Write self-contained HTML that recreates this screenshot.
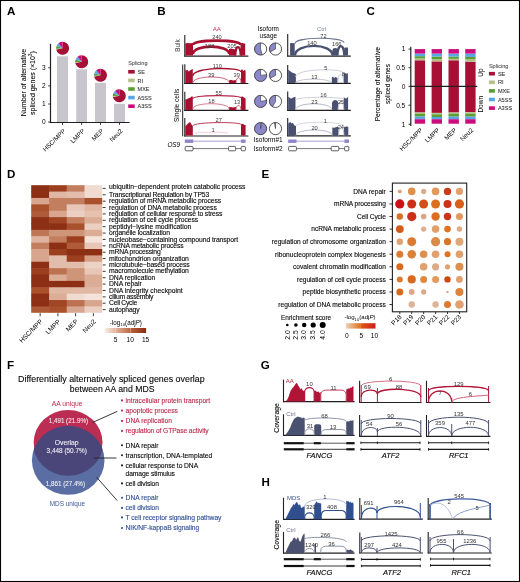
<!DOCTYPE html>
<html><head><meta charset="utf-8"><title>Figure</title>
<style>
html,body{margin:0;padding:0;background:#fff;}
svg{display:block;will-change:transform;}
text{font-family:"Liberation Sans",sans-serif;}
</style></head><body>
<svg width="520" height="582" viewBox="0 0 520 582">
<rect x="0" y="0" width="520" height="582" fill="#fff"/>
<text x="6.90" y="14.80" font-size="11.6" fill="#000" font-weight="bold">A</text>
<text x="157.20" y="15.00" font-size="11.6" fill="#000" font-weight="bold">B</text>
<text x="366.60" y="15.00" font-size="11.6" fill="#000" font-weight="bold">C</text>
<text x="7.00" y="177.80" font-size="11.6" fill="#000" font-weight="bold">D</text>
<text x="261.40" y="177.80" font-size="11.6" fill="#000" font-weight="bold">E</text>
<text x="7.00" y="368.80" font-size="11.6" fill="#000" font-weight="bold">F</text>
<text x="260.80" y="368.70" font-size="11.6" fill="#000" font-weight="bold">G</text>
<text x="261.50" y="486.00" font-size="11.6" fill="#000" font-weight="bold">H</text>
<rect x="57.00" y="56.30" width="11.00" height="66.20" fill="#c8c6cc"/>
<rect x="76.20" y="69.30" width="10.80" height="53.20" fill="#c8c6cc"/>
<rect x="95.00" y="82.80" width="11.00" height="39.70" fill="#c8c6cc"/>
<rect x="114.00" y="103.80" width="11.00" height="18.70" fill="#c8c6cc"/>
<line x1="50.50" y1="43.80" x2="50.50" y2="123.10" stroke="#231f20" stroke-width="1.2"/>
<line x1="49.90" y1="122.50" x2="129.60" y2="122.50" stroke="#231f20" stroke-width="1.2"/>
<line x1="48.20" y1="122.00" x2="50.50" y2="122.00" stroke="#231f20" stroke-width="0.9"/>
<text x="45.60" y="124.20" font-size="6.6" text-anchor="end">0</text>
<line x1="48.20" y1="104.00" x2="50.50" y2="104.00" stroke="#231f20" stroke-width="0.9"/>
<text x="45.60" y="106.20" font-size="6.6" text-anchor="end">1</text>
<line x1="48.20" y1="85.90" x2="50.50" y2="85.90" stroke="#231f20" stroke-width="0.9"/>
<text x="45.60" y="88.10" font-size="6.6" text-anchor="end">2</text>
<line x1="48.20" y1="67.80" x2="50.50" y2="67.80" stroke="#231f20" stroke-width="0.9"/>
<text x="45.60" y="70.00" font-size="6.6" text-anchor="end">3</text>
<line x1="62.50" y1="122.50" x2="62.50" y2="124.80" stroke="#231f20" stroke-width="0.9"/>
<line x1="81.60" y1="122.50" x2="81.60" y2="124.80" stroke="#231f20" stroke-width="0.9"/>
<line x1="100.50" y1="122.50" x2="100.50" y2="124.80" stroke="#231f20" stroke-width="0.9"/>
<line x1="119.50" y1="122.50" x2="119.50" y2="124.80" stroke="#231f20" stroke-width="0.9"/>
<path d="M62.60,48.30 L62.60,41.80 A6.5,6.5 0 1 1 56.22,49.52 Z" fill="#a70f35"/>
<path d="M62.60,48.30 L56.22,49.52 A6.5,6.5 0 0 1 56.11,48.71 Z" fill="#b3c08b"/>
<path d="M62.60,48.30 L56.11,48.71 A6.5,6.5 0 0 1 56.56,45.91 Z" fill="#5b9e33"/>
<path d="M62.60,48.30 L56.56,45.91 A6.5,6.5 0 0 1 58.46,43.29 Z" fill="#58a6e3"/>
<path d="M62.60,48.30 L58.46,43.29 A6.5,6.5 0 0 1 62.60,41.80 Z" fill="#cc0c7c"/>
<path d="M81.70,61.80 L81.70,55.30 A6.5,6.5 0 1 1 75.32,63.02 Z" fill="#a70f35"/>
<path d="M81.70,61.80 L75.32,63.02 A6.5,6.5 0 0 1 75.21,62.21 Z" fill="#b3c08b"/>
<path d="M81.70,61.80 L75.21,62.21 A6.5,6.5 0 0 1 75.66,59.41 Z" fill="#5b9e33"/>
<path d="M81.70,61.80 L75.66,59.41 A6.5,6.5 0 0 1 77.56,56.79 Z" fill="#58a6e3"/>
<path d="M81.70,61.80 L77.56,56.79 A6.5,6.5 0 0 1 81.70,55.30 Z" fill="#cc0c7c"/>
<path d="M100.50,75.30 L100.50,68.80 A6.5,6.5 0 1 1 94.12,76.52 Z" fill="#a70f35"/>
<path d="M100.50,75.30 L94.12,76.52 A6.5,6.5 0 0 1 94.01,75.71 Z" fill="#b3c08b"/>
<path d="M100.50,75.30 L94.01,75.71 A6.5,6.5 0 0 1 94.46,72.91 Z" fill="#5b9e33"/>
<path d="M100.50,75.30 L94.46,72.91 A6.5,6.5 0 0 1 96.36,70.29 Z" fill="#58a6e3"/>
<path d="M100.50,75.30 L96.36,70.29 A6.5,6.5 0 0 1 100.50,68.80 Z" fill="#cc0c7c"/>
<path d="M119.30,95.80 L119.30,89.30 A6.5,6.5 0 1 1 112.92,97.02 Z" fill="#a70f35"/>
<path d="M119.30,95.80 L112.92,97.02 A6.5,6.5 0 0 1 112.81,96.21 Z" fill="#b3c08b"/>
<path d="M119.30,95.80 L112.81,96.21 A6.5,6.5 0 0 1 113.26,93.41 Z" fill="#5b9e33"/>
<path d="M119.30,95.80 L113.26,93.41 A6.5,6.5 0 0 1 115.16,90.79 Z" fill="#58a6e3"/>
<path d="M119.30,95.80 L115.16,90.79 A6.5,6.5 0 0 1 119.30,89.30 Z" fill="#cc0c7c"/>
<text x="26.20" y="82.50" font-size="7.1" text-anchor="middle" stroke="#231f20" stroke-width="0.1" transform="rotate(-90 26.20 82.50)" textLength="67.5" lengthAdjust="spacingAndGlyphs">Number of alternative</text>
<text x="34.90" y="83.10" font-size="7.1" text-anchor="middle" stroke="#231f20" stroke-width="0.1" transform="rotate(-90 34.90 83.10)" textLength="63.7" lengthAdjust="spacingAndGlyphs">spliced genes (×10<tspan font-size="4.6" dy="-2.6">3</tspan><tspan dy="2.6">)</tspan></text>
<text x="66.10" y="131.40" font-size="6.4" text-anchor="end" transform="rotate(-45 66.10 131.40)">HSC/MPP</text>
<text x="85.20" y="131.40" font-size="6.4" text-anchor="end" transform="rotate(-45 85.20 131.40)">LMPP</text>
<text x="104.10" y="131.40" font-size="6.4" text-anchor="end" transform="rotate(-45 104.10 131.40)">MEP</text>
<text x="123.10" y="131.40" font-size="6.4" text-anchor="end" transform="rotate(-45 123.10 131.40)">Neu2</text>
<text x="128.20" y="65.30" font-size="5.5" fill="#555" stroke="#555" stroke-width="0.1">Splicing</text>
<rect x="128.20" y="70.00" width="6.50" height="3.60" fill="#a70f35"/>
<text x="137.60" y="73.90" font-size="5.5" fill="#333" stroke="#333" stroke-width="0.08">SE</text>
<rect x="128.20" y="78.60" width="6.50" height="3.60" fill="#b3c08b"/>
<text x="137.60" y="82.50" font-size="5.5" fill="#333" stroke="#333" stroke-width="0.08">RI</text>
<rect x="128.20" y="87.20" width="6.50" height="3.60" fill="#5b9e33"/>
<text x="137.60" y="91.10" font-size="5.5" fill="#333" stroke="#333" stroke-width="0.08">MXE</text>
<rect x="128.20" y="95.80" width="6.50" height="3.60" fill="#58a6e3"/>
<text x="137.60" y="99.70" font-size="5.5" fill="#333" stroke="#333" stroke-width="0.08">A5SS</text>
<rect x="128.20" y="104.40" width="6.50" height="3.60" fill="#cc0c7c"/>
<text x="137.60" y="108.30" font-size="5.5" fill="#333" stroke="#333" stroke-width="0.08">A3SS</text>
<text x="216.80" y="30.80" font-size="6.2" text-anchor="middle" fill="#c8385a">AA</text>
<text x="268.30" y="31.40" font-size="6.4" text-anchor="middle">Isoform</text>
<text x="268.30" y="37.80" font-size="6.4" text-anchor="middle">usage</text>
<text x="321.60" y="30.50" font-size="5.9" text-anchor="middle" fill="#7c84a0">Ctrl</text>
<text x="180.00" y="45.50" font-size="6.7" text-anchor="middle" fill="#3a3a3a" transform="rotate(-90 180.00 45.50)" textLength="12.5" lengthAdjust="spacingAndGlyphs">Bulk</text>
<text x="178.90" y="105.40" font-size="6.8" text-anchor="middle" transform="rotate(-90 178.90 105.40)" textLength="33.2" lengthAdjust="spacingAndGlyphs">Single cells</text>
<line x1="182.70" y1="64.50" x2="182.70" y2="136.30" stroke="#231f20" stroke-width="1"/>
<text x="180.20" y="147.30" font-size="6.4" text-anchor="end" font-style="italic">OS9</text>
<line x1="184.80" y1="35.00" x2="184.80" y2="56.60" stroke="#231f20" stroke-width="1.1"/>
<line x1="184.30" y1="56.10" x2="248.40" y2="56.10" stroke="#231f20" stroke-width="1.2"/>
<line x1="184.80" y1="64.20" x2="184.80" y2="84.00" stroke="#231f20" stroke-width="1.1"/>
<line x1="184.30" y1="83.50" x2="248.40" y2="83.50" stroke="#231f20" stroke-width="1.2"/>
<line x1="184.80" y1="91.70" x2="184.80" y2="110.90" stroke="#231f20" stroke-width="1.1"/>
<line x1="184.30" y1="110.40" x2="248.40" y2="110.40" stroke="#231f20" stroke-width="1.2"/>
<line x1="184.80" y1="118.00" x2="184.80" y2="136.50" stroke="#231f20" stroke-width="1.1"/>
<line x1="184.30" y1="136.00" x2="248.40" y2="136.00" stroke="#231f20" stroke-width="1.2"/>
<line x1="287.70" y1="34.00" x2="287.70" y2="56.60" stroke="#231f20" stroke-width="1.1"/>
<line x1="287.20" y1="56.10" x2="350.80" y2="56.10" stroke="#231f20" stroke-width="1.2"/>
<line x1="287.70" y1="65.00" x2="287.70" y2="83.90" stroke="#231f20" stroke-width="1.1"/>
<line x1="287.20" y1="83.40" x2="350.80" y2="83.40" stroke="#231f20" stroke-width="1.2"/>
<line x1="287.70" y1="91.50" x2="287.70" y2="110.80" stroke="#231f20" stroke-width="1.1"/>
<line x1="287.20" y1="110.30" x2="350.80" y2="110.30" stroke="#231f20" stroke-width="1.2"/>
<line x1="287.70" y1="118.00" x2="287.70" y2="136.30" stroke="#231f20" stroke-width="1.1"/>
<line x1="287.20" y1="135.80" x2="350.80" y2="135.80" stroke="#231f20" stroke-width="1.2"/>
<path d="M185.30,55.60 L185.30,43.50 L187.00,43.00 L190.00,43.20 L193.00,43.00 L193.00,55.60 Z" fill="#a8102f"/>
<path d="M229.00,55.60 L229.00,49.00 L231.00,48.50 L233.00,49.00 L235.50,49.50 L235.50,55.60 Z" fill="#a8102f"/>
<path d="M240.50,55.60 L240.50,44.00 L242.00,42.80 L244.00,43.50 L245.20,43.50 L245.20,55.60 Z" fill="#a8102f"/>
<path d="M193.00,45.00 C193.00,39.13 240.70,39.13 240.70,45.00" fill="none" stroke="#a8102f" stroke-width="2.8"/>
<path d="M193.00,54.00 C193.00,44.13 229.20,44.13 229.20,54.00" fill="none" stroke="#a8102f" stroke-width="2.6"/>
<path d="M235.30,55.60 C235.30,44.40 240.70,44.40 240.70,55.60" fill="none" stroke="#a8102f" stroke-width="2.2"/>
<text x="217.00" y="38.95" font-size="5.7" text-anchor="middle" fill="#3a3a3a">240</text>
<text x="209.60" y="48.25" font-size="5.7" text-anchor="middle" fill="#3a3a3a">188</text>
<text x="232.00" y="48.25" font-size="5.7" text-anchor="middle" fill="#3a3a3a">205</text>
<path d="M185.30,83.00 L185.30,69.50 L186.50,70.50 L187.50,69.80 L188.50,71.50 L190.00,70.50 L191.50,69.50 L192.80,69.00 L192.80,83.00 Z" fill="#a8102f"/>
<path d="M229.00,83.00 L229.00,80.50 L231.00,79.80 L233.00,80.60 L236.00,80.00 L236.00,83.00 Z" fill="#a8102f"/>
<path d="M241.00,83.00 L241.00,70.00 L242.00,69.20 L243.50,71.00 L244.50,70.00 L245.60,70.50 L245.60,83.00 Z" fill="#a8102f"/>
<path d="M192.80,76.00 C192.80,66.80 241.00,66.80 241.00,72.00" fill="none" stroke="#a8102f" stroke-width="1.4"/>
<path d="M192.80,83.00 C192.80,75.08 229.20,75.08 229.20,82.50" fill="none" stroke="#c8506a" stroke-width="0.9"/>
<path d="M236.00,83.00 C236.00,75.80 241.00,75.80 241.00,83.00" fill="none" stroke="#c8506a" stroke-width="0.9"/>
<text x="217.30" y="67.85" font-size="5.7" text-anchor="middle" fill="#3a3a3a">110</text>
<text x="211.20" y="76.85" font-size="5.7" text-anchor="middle" fill="#3a3a3a">39</text>
<text x="236.70" y="76.85" font-size="5.7" text-anchor="middle" fill="#3a3a3a">39</text>
<path d="M185.30,110.00 L185.30,99.60 L186.50,99.20 L188.00,98.60 L190.00,97.80 L191.50,96.60 L192.80,96.40 L192.80,110.00 Z" fill="#a8102f"/>
<path d="M229.00,110.00 L229.00,107.30 L231.00,107.00 L233.00,107.50 L236.00,107.00 L236.00,110.00 Z" fill="#a8102f"/>
<path d="M241.00,110.00 L241.00,96.80 L242.50,96.60 L244.00,97.60 L245.60,98.50 L245.60,110.00 Z" fill="#a8102f"/>
<path d="M192.80,99.00 C192.80,94.77 241.00,94.77 241.00,98.00" fill="none" stroke="#b82848" stroke-width="1.2"/>
<path d="M192.80,109.00 C192.80,101.93 229.20,101.93 229.20,109.00" fill="none" stroke="#d06a80" stroke-width="0.9"/>
<path d="M236.00,110.00 C236.00,103.87 241.00,103.87 241.00,110.00" fill="none" stroke="#c8506a" stroke-width="0.9"/>
<text x="218.70" y="95.45" font-size="5.7" text-anchor="middle" fill="#3a3a3a">55</text>
<text x="211.50" y="103.35" font-size="5.7" text-anchor="middle" fill="#3a3a3a">18</text>
<text x="237.10" y="104.45" font-size="5.7" text-anchor="middle" fill="#3a3a3a">13</text>
<path d="M185.30,135.60 L185.30,126.00 L186.50,125.00 L188.00,123.50 L189.50,122.20 L190.50,122.60 L191.80,125.00 L192.80,126.00 L192.80,135.60 Z" fill="#a8102f"/>
<path d="M241.00,135.60 L241.00,124.50 L242.00,123.80 L243.50,124.20 L244.50,125.00 L245.60,125.00 L245.60,135.60 Z" fill="#a8102f"/>
<path d="M192.80,126.00 C192.80,121.72 241.00,121.72 241.00,124.50" fill="none" stroke="#c03a5a" stroke-width="1.0"/>
<path d="M195.00,133.80 C195.00,131.72 228.00,131.72 228.00,133.50" fill="none" stroke="#f0b8c6" stroke-width="0.7"/>
<text x="218.70" y="122.05" font-size="5.7" text-anchor="middle" fill="#3a3a3a">27</text>
<text x="213.00" y="131.65" font-size="5.7" text-anchor="middle" fill="#3a3a3a">1</text>
<path d="M290.10,55.60 L290.10,43.10 L294.70,43.10 L294.70,55.60 Z" fill="#4a5170"/>
<path d="M332.40,55.60 L332.40,50.00 L333.50,48.30 L336.00,48.00 L337.50,49.00 L337.50,55.60 Z" fill="#4a5170"/>
<path d="M344.20,55.60 L344.20,48.50 L345.00,47.50 L348.00,47.50 L348.00,55.60 Z" fill="#4a5170"/>
<path d="M295.10,43.50 C295.10,36.68 344.00,36.68 344.00,42.80" fill="none" stroke="#6a7290" stroke-width="1.1"/>
<path d="M295.00,55.60 C295.00,42.67 332.60,42.67 332.60,55.60" fill="none" stroke="#4a5170" stroke-width="2.4"/>
<path d="M337.50,55.60 C337.50,43.07 344.20,43.07 344.20,55.60" fill="none" stroke="#4a5170" stroke-width="2.2"/>
<text x="323.40" y="38.15" font-size="5.7" text-anchor="middle" fill="#3a3a3a">72</text>
<text x="311.90" y="44.85" font-size="5.7" text-anchor="middle" fill="#3a3a3a">140</text>
<text x="336.80" y="46.15" font-size="5.7" text-anchor="middle" fill="#3a3a3a">166</text>
<path d="M288.20,83.00 L288.20,69.80 L290.00,71.00 L292.00,72.50 L294.00,73.30 L295.90,74.00 L295.90,83.00 Z" fill="#4a5170"/>
<path d="M331.80,83.00 L331.80,77.50 L333.00,76.50 L334.00,78.00 L335.50,77.00 L337.50,78.00 L337.50,83.00 Z" fill="#4a5170"/>
<path d="M343.60,83.00 L343.60,73.50 L345.00,72.90 L346.50,73.80 L347.90,73.00 L347.90,83.00 Z" fill="#4a5170"/>
<path d="M295.50,77.00 C295.50,68.20 343.50,68.20 343.50,73.00" fill="none" stroke="#c8cad2" stroke-width="0.9"/>
<path d="M295.50,83.00 C295.50,77.93 331.50,77.93 331.50,83.00" fill="none" stroke="#c0c3cc" stroke-width="0.9"/>
<path d="M337.80,83.00 C337.80,71.67 343.50,71.67 343.50,83.00" fill="none" stroke="#c0c3cc" stroke-width="0.9"/>
<text x="325.80" y="70.05" font-size="5.7" text-anchor="middle" fill="#3a3a3a">5</text>
<text x="314.30" y="78.55" font-size="5.7" text-anchor="middle" fill="#3a3a3a">13</text>
<text x="343.30" y="76.25" font-size="5.7" text-anchor="middle" fill="#3a3a3a">8</text>
<path d="M288.20,110.00 L288.20,96.80 L289.50,97.60 L291.00,98.70 L293.00,97.50 L295.50,96.70 L295.50,110.00 Z" fill="#4a5170"/>
<path d="M332.00,110.00 L332.00,103.00 L333.00,100.80 L335.00,100.00 L337.00,100.60 L338.10,102.00 L338.10,110.00 Z" fill="#4a5170"/>
<path d="M343.80,110.00 L343.80,97.00 L345.00,98.20 L346.50,98.50 L348.10,96.80 L348.10,110.00 Z" fill="#4a5170"/>
<path d="M295.50,100.00 C295.50,96.48 343.80,96.48 343.80,99.50" fill="none" stroke="#c8cad2" stroke-width="0.9"/>
<path d="M295.50,110.00 C295.50,101.73 332.00,101.73 332.00,110.00" fill="none" stroke="#aeb2c0" stroke-width="0.9"/>
<path d="M338.10,110.00 C338.10,99.20 343.80,99.20 343.80,110.00" fill="none" stroke="#aeb2c0" stroke-width="0.9"/>
<text x="323.40" y="96.85" font-size="5.7" text-anchor="middle" fill="#3a3a3a">16</text>
<text x="314.40" y="103.55" font-size="5.7" text-anchor="middle" fill="#3a3a3a">23</text>
<text x="341.10" y="103.55" font-size="5.7" text-anchor="middle" fill="#3a3a3a">25</text>
<path d="M288.20,135.50 L288.20,123.50 L289.50,122.50 L290.30,121.70 L291.30,123.50 L292.50,122.80 L293.50,123.80 L294.50,125.50 L296.00,126.00 L296.00,135.50 Z" fill="#4a5170"/>
<path d="M332.30,135.50 L332.30,127.50 L334.00,127.80 L336.00,127.20 L337.50,126.50 L338.50,127.00 L338.50,135.50 Z" fill="#4a5170"/>
<path d="M344.00,135.50 L344.00,126.50 L345.00,127.20 L346.50,126.30 L348.30,127.00 L348.30,135.50 Z" fill="#4a5170"/>
<path d="M296.00,126.00 C296.00,121.07 344.00,121.07 344.00,126.00" fill="none" stroke="#cfd2da" stroke-width="0.9"/>
<path d="M296.00,135.50 C296.00,128.17 332.30,128.17 332.30,135.50" fill="none" stroke="#aeb2c0" stroke-width="0.9"/>
<path d="M338.50,135.50 C338.50,125.50 344.00,125.50 344.00,135.50" fill="none" stroke="#aeb2c0" stroke-width="0.9"/>
<text x="325.40" y="122.85" font-size="5.7" text-anchor="middle" fill="#3a3a3a">1</text>
<text x="314.60" y="129.75" font-size="5.7" text-anchor="middle" fill="#3a3a3a">20</text>
<text x="340.80" y="128.95" font-size="5.7" text-anchor="middle" fill="#3a3a3a">24</text>
<line x1="192.80" y1="141.20" x2="241.10" y2="141.20" stroke="#8f8bcb" stroke-width="0.8"/>
<rect x="184.80" y="139.50" width="8.40" height="3.40" fill="#8c87c9"/>
<rect x="241.00" y="139.50" width="4.60" height="3.40" fill="#8c87c9"/>
<line x1="192.80" y1="148.60" x2="241.10" y2="148.60" stroke="#555" stroke-width="0.8"/>
<rect x="185.20" y="146.4" width="7.8" height="4.4" rx="1" fill="#fff" stroke="#333" stroke-width="0.8"/>
<rect x="228.50" y="146.4" width="7.10" height="4.4" rx="1" fill="#fff" stroke="#333" stroke-width="0.8"/>
<rect x="241.20" y="146.4" width="4.2" height="4.4" rx="1" fill="#fff" stroke="#333" stroke-width="0.8"/>
<line x1="296.20" y1="141.20" x2="344.50" y2="141.20" stroke="#8f8bcb" stroke-width="0.8"/>
<rect x="288.20" y="139.50" width="8.40" height="3.40" fill="#8c87c9"/>
<rect x="344.40" y="139.50" width="4.60" height="3.40" fill="#8c87c9"/>
<line x1="296.20" y1="148.60" x2="344.50" y2="148.60" stroke="#555" stroke-width="0.8"/>
<rect x="288.60" y="146.4" width="7.8" height="4.4" rx="1" fill="#fff" stroke="#333" stroke-width="0.8"/>
<rect x="331.20" y="146.4" width="7.60" height="4.4" rx="1" fill="#fff" stroke="#333" stroke-width="0.8"/>
<rect x="344.60" y="146.4" width="4.2" height="4.4" rx="1" fill="#fff" stroke="#333" stroke-width="0.8"/>
<text x="268.20" y="142.40" font-size="6.5" text-anchor="middle" textLength="28.9" lengthAdjust="spacingAndGlyphs">Isoform#1</text>
<text x="268.20" y="151.20" font-size="6.5" text-anchor="middle" textLength="28.9" lengthAdjust="spacingAndGlyphs">Isoform#2</text>
<circle cx="260.60" cy="49.00" r="6.10" fill="#fff"/>
<path d="M260.60,49.00 L260.60,42.90 A6.1,6.1 0 1 0 262.12,54.91 Z" fill="#8c87c9"/>
<path d="M260.6,49.0 L260.6,42.9" fill="none" stroke="#333" stroke-width="0.6"/>
<path d="M260.6,49.0 L262.12,54.91" fill="none" stroke="#333" stroke-width="0.6"/>
<circle cx="260.6" cy="49.0" r="6.1" fill="none" stroke="#2a2a2a" stroke-width="0.8"/>
<circle cx="275.50" cy="49.00" r="6.10" fill="#fff"/>
<path d="M275.50,49.00 L275.50,42.90 A6.1,6.1 0 0 0 270.15,51.94 Z" fill="#8c87c9"/>
<path d="M275.5,49.0 L275.5,42.9" fill="none" stroke="#333" stroke-width="0.6"/>
<path d="M275.5,49.0 L270.15,51.94" fill="none" stroke="#333" stroke-width="0.6"/>
<circle cx="275.5" cy="49.0" r="6.1" fill="none" stroke="#2a2a2a" stroke-width="0.8"/>
<circle cx="260.60" cy="75.40" r="6.10" fill="#fff"/>
<path d="M260.60,75.40 L260.60,69.30 A6.1,6.1 0 1 0 266.65,74.64 Z" fill="#8c87c9"/>
<path d="M260.6,75.4 L260.6,69.30000000000001" fill="none" stroke="#333" stroke-width="0.6"/>
<path d="M260.6,75.4 L266.65,74.64" fill="none" stroke="#333" stroke-width="0.6"/>
<circle cx="260.6" cy="75.4" r="6.1" fill="none" stroke="#2a2a2a" stroke-width="0.8"/>
<circle cx="275.50" cy="75.40" r="6.10" fill="#fff"/>
<path d="M275.50,75.40 L275.50,69.30 A6.1,6.1 0 0 0 270.15,78.34 Z" fill="#8c87c9"/>
<path d="M275.5,75.4 L275.5,69.30000000000001" fill="none" stroke="#333" stroke-width="0.6"/>
<path d="M275.5,75.4 L270.15,78.34" fill="none" stroke="#333" stroke-width="0.6"/>
<circle cx="275.5" cy="75.4" r="6.1" fill="none" stroke="#2a2a2a" stroke-width="0.8"/>
<circle cx="260.60" cy="101.40" r="6.10" fill="#fff"/>
<path d="M260.60,101.40 L260.60,95.30 A6.1,6.1 0 1 0 266.59,100.26 Z" fill="#8c87c9"/>
<path d="M260.6,101.4 L260.6,95.30000000000001" fill="none" stroke="#333" stroke-width="0.6"/>
<path d="M260.6,101.4 L266.59,100.26" fill="none" stroke="#333" stroke-width="0.6"/>
<circle cx="260.6" cy="101.4" r="6.1" fill="none" stroke="#2a2a2a" stroke-width="0.8"/>
<circle cx="275.50" cy="101.40" r="6.10" fill="#fff"/>
<path d="M275.50,101.40 L275.50,95.30 A6.1,6.1 0 0 0 272.56,106.75 Z" fill="#8c87c9"/>
<path d="M275.5,101.4 L275.5,95.30000000000001" fill="none" stroke="#333" stroke-width="0.6"/>
<path d="M275.5,101.4 L272.56,106.75" fill="none" stroke="#333" stroke-width="0.6"/>
<circle cx="275.5" cy="101.4" r="6.1" fill="none" stroke="#2a2a2a" stroke-width="0.8"/>
<circle cx="260.60" cy="128.60" r="6.10" fill="#fff"/>
<path d="M260.60,128.60 L260.60,122.50 A6.1,6.1 0 1 0 261.74,122.61 Z" fill="#8c87c9"/>
<path d="M260.6,128.6 L260.6,122.5" fill="none" stroke="#333" stroke-width="0.6"/>
<path d="M260.6,128.6 L261.74,122.61" fill="none" stroke="#333" stroke-width="0.6"/>
<circle cx="260.6" cy="128.6" r="6.1" fill="none" stroke="#2a2a2a" stroke-width="0.8"/>
<circle cx="275.50" cy="128.60" r="6.10" fill="#fff"/>
<path d="M275.50,128.60 L275.50,122.50 A6.1,6.1 0 0 0 274.36,122.61 Z" fill="#8c87c9"/>
<path d="M275.5,128.6 L275.5,122.5" fill="none" stroke="#333" stroke-width="0.6"/>
<path d="M275.5,128.6 L274.36,122.61" fill="none" stroke="#333" stroke-width="0.6"/>
<circle cx="275.5" cy="128.6" r="6.1" fill="none" stroke="#2a2a2a" stroke-width="0.8"/>
<rect x="414.70" y="60.28" width="10.40" height="26.12" fill="#a70f35"/>
<rect x="414.70" y="58.42" width="10.40" height="1.87" fill="#b3c08b"/>
<rect x="414.70" y="56.18" width="10.40" height="2.24" fill="#5b9e33"/>
<rect x="414.70" y="53.57" width="10.40" height="2.61" fill="#58a6e3"/>
<rect x="414.70" y="49.09" width="10.40" height="4.48" fill="#cc0c7c"/>
<rect x="414.70" y="86.40" width="10.40" height="26.12" fill="#a70f35"/>
<rect x="414.70" y="112.52" width="10.40" height="1.12" fill="#b3c08b"/>
<rect x="414.70" y="113.64" width="10.40" height="2.98" fill="#5b9e33"/>
<rect x="414.70" y="116.62" width="10.40" height="2.61" fill="#58a6e3"/>
<rect x="414.70" y="119.23" width="10.40" height="4.48" fill="#cc0c7c"/>
<rect x="431.60" y="61.40" width="10.40" height="25.00" fill="#a70f35"/>
<rect x="431.60" y="59.16" width="10.40" height="2.24" fill="#b3c08b"/>
<rect x="431.60" y="56.55" width="10.40" height="2.61" fill="#5b9e33"/>
<rect x="431.60" y="53.57" width="10.40" height="2.98" fill="#58a6e3"/>
<rect x="431.60" y="49.09" width="10.40" height="4.48" fill="#cc0c7c"/>
<rect x="431.60" y="86.40" width="10.40" height="26.49" fill="#a70f35"/>
<rect x="431.60" y="112.89" width="10.40" height="1.49" fill="#b3c08b"/>
<rect x="431.60" y="114.38" width="10.40" height="2.61" fill="#5b9e33"/>
<rect x="431.60" y="116.99" width="10.40" height="2.24" fill="#58a6e3"/>
<rect x="431.60" y="119.23" width="10.40" height="4.48" fill="#cc0c7c"/>
<rect x="448.50" y="60.28" width="10.40" height="26.12" fill="#a70f35"/>
<rect x="448.50" y="58.79" width="10.40" height="1.49" fill="#b3c08b"/>
<rect x="448.50" y="56.55" width="10.40" height="2.24" fill="#5b9e33"/>
<rect x="448.50" y="53.57" width="10.40" height="2.98" fill="#58a6e3"/>
<rect x="448.50" y="49.09" width="10.40" height="4.48" fill="#cc0c7c"/>
<rect x="448.50" y="86.40" width="10.40" height="26.12" fill="#a70f35"/>
<rect x="448.50" y="112.52" width="10.40" height="1.12" fill="#b3c08b"/>
<rect x="448.50" y="113.64" width="10.40" height="2.98" fill="#5b9e33"/>
<rect x="448.50" y="116.62" width="10.40" height="2.61" fill="#58a6e3"/>
<rect x="448.50" y="119.23" width="10.40" height="4.48" fill="#cc0c7c"/>
<rect x="465.20" y="61.78" width="10.40" height="24.62" fill="#a70f35"/>
<rect x="465.20" y="59.16" width="10.40" height="2.61" fill="#b3c08b"/>
<rect x="465.20" y="56.93" width="10.40" height="2.24" fill="#5b9e33"/>
<rect x="465.20" y="53.57" width="10.40" height="3.36" fill="#58a6e3"/>
<rect x="465.20" y="49.09" width="10.40" height="4.48" fill="#cc0c7c"/>
<rect x="465.20" y="86.40" width="10.40" height="25.74" fill="#a70f35"/>
<rect x="465.20" y="112.14" width="10.40" height="1.49" fill="#b3c08b"/>
<rect x="465.20" y="113.64" width="10.40" height="2.98" fill="#5b9e33"/>
<rect x="465.20" y="116.62" width="10.40" height="2.61" fill="#58a6e3"/>
<rect x="465.20" y="119.23" width="10.40" height="4.48" fill="#cc0c7c"/>
<line x1="410.80" y1="46.80" x2="410.80" y2="126.00" stroke="#231f20" stroke-width="1.2"/>
<line x1="410.30" y1="86.40" x2="477.20" y2="86.40" stroke="#231f20" stroke-width="1.1"/>
<line x1="408.50" y1="49.10" x2="410.80" y2="49.10" stroke="#231f20" stroke-width="0.9"/>
<text x="405.30" y="51.40" font-size="6.6" text-anchor="end">1</text>
<line x1="408.50" y1="67.70" x2="410.80" y2="67.70" stroke="#231f20" stroke-width="0.9"/>
<text x="405.30" y="70.00" font-size="6.6" text-anchor="end">0.5</text>
<line x1="408.50" y1="86.40" x2="410.80" y2="86.40" stroke="#231f20" stroke-width="0.9"/>
<text x="405.30" y="88.70" font-size="6.6" text-anchor="end">0</text>
<line x1="408.50" y1="105.20" x2="410.80" y2="105.20" stroke="#231f20" stroke-width="0.9"/>
<text x="405.30" y="107.50" font-size="6.6" text-anchor="end">0.5</text>
<line x1="408.50" y1="124.30" x2="410.80" y2="124.30" stroke="#231f20" stroke-width="0.9"/>
<text x="405.30" y="126.60" font-size="6.6" text-anchor="end">1</text>
<text x="380.50" y="84.20" font-size="7.0" text-anchor="middle" stroke="#231f20" stroke-width="0.1" transform="rotate(-90 380.50 84.20)" textLength="74.3" lengthAdjust="spacingAndGlyphs">Percentage of alternative</text>
<text x="389.50" y="84.00" font-size="7.0" text-anchor="middle" stroke="#231f20" stroke-width="0.1" transform="rotate(-90 389.50 84.00)" textLength="40" lengthAdjust="spacingAndGlyphs">spliced genes</text>
<text x="423.20" y="130.60" font-size="6.5" text-anchor="end" transform="rotate(-45 423.20 130.60)">HSC/MPP</text>
<text x="440.10" y="130.60" font-size="6.5" text-anchor="end" transform="rotate(-45 440.10 130.60)">LMPP</text>
<text x="457.00" y="130.60" font-size="6.5" text-anchor="end" transform="rotate(-45 457.00 130.60)">MEP</text>
<text x="473.70" y="130.60" font-size="6.5" text-anchor="end" transform="rotate(-45 473.70 130.60)">Neu2</text>
<text x="482.80" y="72.50" font-size="6.5" text-anchor="middle" transform="rotate(-90 482.80 72.50)">Up</text>
<text x="482.80" y="104.30" font-size="6.5" text-anchor="middle" transform="rotate(-90 482.80 104.30)">Down</text>
<text x="488.90" y="67.80" font-size="5.6" fill="#555" stroke="#555" stroke-width="0.1">Splicing</text>
<rect x="488.90" y="71.90" width="6.00" height="3.60" fill="#a70f35"/>
<text x="497.90" y="75.80" font-size="5.6" fill="#333" stroke="#333" stroke-width="0.08">SE</text>
<rect x="488.90" y="80.50" width="6.00" height="3.60" fill="#b3c08b"/>
<text x="497.90" y="84.40" font-size="5.6" fill="#333" stroke="#333" stroke-width="0.08">RI</text>
<rect x="488.90" y="89.10" width="6.00" height="3.60" fill="#5b9e33"/>
<text x="497.90" y="93.00" font-size="5.6" fill="#333" stroke="#333" stroke-width="0.08">MXE</text>
<rect x="488.90" y="97.70" width="6.00" height="3.60" fill="#58a6e3"/>
<text x="497.90" y="101.60" font-size="5.6" fill="#333" stroke="#333" stroke-width="0.08">A5SS</text>
<rect x="488.90" y="106.30" width="6.00" height="3.60" fill="#cc0c7c"/>
<text x="497.90" y="110.20" font-size="5.6" fill="#333" stroke="#333" stroke-width="0.08">A3SS</text>
<rect x="31.20" y="185.20" width="18.50" height="6.98" fill="#8c2f14"/>
<rect x="49.10" y="185.20" width="18.20" height="6.98" fill="#9b3f1f"/>
<rect x="66.70" y="185.20" width="18.40" height="6.98" fill="#c27e5e"/>
<rect x="84.50" y="185.20" width="17.70" height="6.98" fill="#f0dbd0"/>
<rect x="31.20" y="191.58" width="18.50" height="6.98" fill="#8c2f14"/>
<rect x="49.10" y="191.58" width="18.20" height="6.98" fill="#e0b7a3"/>
<rect x="66.70" y="191.58" width="18.40" height="6.98" fill="#e3bdab"/>
<rect x="84.50" y="191.58" width="17.70" height="6.98" fill="#f0dbd0"/>
<rect x="31.20" y="197.96" width="18.50" height="6.98" fill="#d8a68e"/>
<rect x="49.10" y="197.96" width="18.20" height="6.98" fill="#c27e5e"/>
<rect x="66.70" y="197.96" width="18.40" height="6.98" fill="#c27e5e"/>
<rect x="84.50" y="197.96" width="17.70" height="6.98" fill="#a9502d"/>
<rect x="31.20" y="204.34" width="18.50" height="6.98" fill="#a9502d"/>
<rect x="49.10" y="204.34" width="18.20" height="6.98" fill="#c27e5e"/>
<rect x="66.70" y="204.34" width="18.40" height="6.98" fill="#e8c7b8"/>
<rect x="84.50" y="204.34" width="17.70" height="6.98" fill="#e0b7a3"/>
<rect x="31.20" y="210.72" width="18.50" height="6.98" fill="#af5a38"/>
<rect x="49.10" y="210.72" width="18.20" height="6.98" fill="#d8a68e"/>
<rect x="66.70" y="210.72" width="18.40" height="6.98" fill="#ebcfc2"/>
<rect x="84.50" y="210.72" width="17.70" height="6.98" fill="#e5c1b0"/>
<rect x="31.20" y="217.10" width="18.50" height="6.98" fill="#8c2f14"/>
<rect x="49.10" y="217.10" width="18.20" height="6.98" fill="#a14625"/>
<rect x="66.70" y="217.10" width="18.40" height="6.98" fill="#c27e5e"/>
<rect x="84.50" y="217.10" width="17.70" height="6.98" fill="#dbad96"/>
<rect x="31.20" y="223.48" width="18.50" height="6.98" fill="#8c2f14"/>
<rect x="49.10" y="223.48" width="18.20" height="6.98" fill="#8c2f14"/>
<rect x="66.70" y="223.48" width="18.40" height="6.98" fill="#a9502d"/>
<rect x="84.50" y="223.48" width="17.70" height="6.98" fill="#ebcfc2"/>
<rect x="31.20" y="229.86" width="18.50" height="6.98" fill="#be7655"/>
<rect x="49.10" y="229.86" width="18.20" height="6.98" fill="#cf9579"/>
<rect x="66.70" y="229.86" width="18.40" height="6.98" fill="#cf9579"/>
<rect x="84.50" y="229.86" width="17.70" height="6.98" fill="#dbad96"/>
<rect x="31.20" y="236.24" width="18.50" height="6.98" fill="#deb49f"/>
<rect x="49.10" y="236.24" width="18.20" height="6.98" fill="#c27e5e"/>
<rect x="66.70" y="236.24" width="18.40" height="6.98" fill="#9b3f1f"/>
<rect x="84.50" y="236.24" width="17.70" height="6.98" fill="#f4e3da"/>
<rect x="31.20" y="242.62" width="18.50" height="6.98" fill="#c27e5e"/>
<rect x="49.10" y="242.62" width="18.20" height="6.98" fill="#8c2f14"/>
<rect x="66.70" y="242.62" width="18.40" height="6.98" fill="#af5a38"/>
<rect x="84.50" y="242.62" width="17.70" height="6.98" fill="#e8c7b8"/>
<rect x="31.20" y="249.00" width="18.50" height="6.98" fill="#d8a68e"/>
<rect x="49.10" y="249.00" width="18.20" height="6.98" fill="#9b3f1f"/>
<rect x="66.70" y="249.00" width="18.40" height="6.98" fill="#8c2f14"/>
<rect x="84.50" y="249.00" width="17.70" height="6.98" fill="#8c2f14"/>
<rect x="31.20" y="255.38" width="18.50" height="6.98" fill="#d8a68e"/>
<rect x="49.10" y="255.38" width="18.20" height="6.98" fill="#e3bdab"/>
<rect x="66.70" y="255.38" width="18.40" height="6.98" fill="#9b3f1f"/>
<rect x="84.50" y="255.38" width="17.70" height="6.98" fill="#d49f86"/>
<rect x="31.20" y="261.76" width="18.50" height="6.98" fill="#8c2f14"/>
<rect x="49.10" y="261.76" width="18.20" height="6.98" fill="#e3bdab"/>
<rect x="66.70" y="261.76" width="18.40" height="6.98" fill="#e3bdab"/>
<rect x="84.50" y="261.76" width="17.70" height="6.98" fill="#edd3c6"/>
<rect x="31.20" y="268.14" width="18.50" height="6.98" fill="#9b3f1f"/>
<rect x="49.10" y="268.14" width="18.20" height="6.98" fill="#bc7251"/>
<rect x="66.70" y="268.14" width="18.40" height="6.98" fill="#cf9579"/>
<rect x="84.50" y="268.14" width="17.70" height="6.98" fill="#e8c7b8"/>
<rect x="31.20" y="274.52" width="18.50" height="6.98" fill="#8c2f14"/>
<rect x="49.10" y="274.52" width="18.20" height="6.98" fill="#dbad96"/>
<rect x="66.70" y="274.52" width="18.40" height="6.98" fill="#cf9579"/>
<rect x="84.50" y="274.52" width="17.70" height="6.98" fill="#dbad96"/>
<rect x="31.20" y="280.90" width="18.50" height="6.98" fill="#8c2f14"/>
<rect x="49.10" y="280.90" width="18.20" height="6.98" fill="#8c2f14"/>
<rect x="66.70" y="280.90" width="18.40" height="6.98" fill="#8c2f14"/>
<rect x="84.50" y="280.90" width="17.70" height="6.98" fill="#dbad96"/>
<rect x="31.20" y="287.28" width="18.50" height="6.98" fill="#a9502d"/>
<rect x="49.10" y="287.28" width="18.20" height="6.98" fill="#e0b7a3"/>
<rect x="66.70" y="287.28" width="18.40" height="6.98" fill="#e0b7a3"/>
<rect x="84.50" y="287.28" width="17.70" height="6.98" fill="#e0b7a3"/>
<rect x="31.20" y="293.66" width="18.50" height="6.98" fill="#8c2f14"/>
<rect x="49.10" y="293.66" width="18.20" height="6.98" fill="#dbad96"/>
<rect x="66.70" y="293.66" width="18.40" height="6.98" fill="#f0dbd0"/>
<rect x="84.50" y="293.66" width="17.70" height="6.98" fill="#f4e3da"/>
<rect x="31.20" y="300.04" width="18.50" height="6.98" fill="#8c2f14"/>
<rect x="49.10" y="300.04" width="18.20" height="6.98" fill="#a14625"/>
<rect x="66.70" y="300.04" width="18.40" height="6.98" fill="#bc7251"/>
<rect x="84.50" y="300.04" width="17.70" height="6.98" fill="#d8a68e"/>
<rect x="31.20" y="306.42" width="18.50" height="6.38" fill="#af5a38"/>
<rect x="49.10" y="306.42" width="18.20" height="6.38" fill="#a9502d"/>
<rect x="66.70" y="306.42" width="18.40" height="6.38" fill="#d8a68e"/>
<rect x="84.50" y="306.42" width="17.70" height="6.38" fill="#ebcfc2"/>
<line x1="102.70" y1="188.39" x2="105.60" y2="188.39" stroke="#231f20" stroke-width="0.9"/>
<text x="109.00" y="189.49" font-size="6.8" stroke="#231f20" stroke-width="0.12" textLength="136.5" lengthAdjust="spacing">ubiquitin−dependent protein catabolic process</text>
<line x1="102.70" y1="194.77" x2="105.60" y2="194.77" stroke="#231f20" stroke-width="0.9"/>
<text x="109.00" y="196.87" font-size="6.8" stroke="#231f20" stroke-width="0.12" textLength="100.2" lengthAdjust="spacing">Transcriptional Regulation by TP53</text>
<line x1="102.70" y1="201.15" x2="105.60" y2="201.15" stroke="#231f20" stroke-width="0.9"/>
<text x="109.00" y="203.25" font-size="6.8" stroke="#231f20" stroke-width="0.12" textLength="112.2" lengthAdjust="spacing">regulation of mRNA metabolic process</text>
<line x1="102.70" y1="207.53" x2="105.60" y2="207.53" stroke="#231f20" stroke-width="0.9"/>
<text x="109.00" y="209.63" font-size="6.8" stroke="#231f20" stroke-width="0.12" textLength="107.8" lengthAdjust="spacing">regulation of DNA metabolic process</text>
<line x1="102.70" y1="213.91" x2="105.60" y2="213.91" stroke="#231f20" stroke-width="0.9"/>
<text x="109.00" y="216.01" font-size="6.8" stroke="#231f20" stroke-width="0.12" textLength="113.4" lengthAdjust="spacing">regulation of cellular response to stress</text>
<line x1="102.70" y1="220.29" x2="105.60" y2="220.29" stroke="#231f20" stroke-width="0.9"/>
<text x="109.00" y="222.39" font-size="6.8" stroke="#231f20" stroke-width="0.12" textLength="89.1" lengthAdjust="spacing">regulation of cell cycle process</text>
<line x1="102.70" y1="226.67" x2="105.60" y2="226.67" stroke="#231f20" stroke-width="0.9"/>
<text x="109.00" y="228.77" font-size="6.8" stroke="#231f20" stroke-width="0.12" textLength="82.2" lengthAdjust="spacing">peptidyl−lysine modification</text>
<line x1="102.70" y1="233.05" x2="105.60" y2="233.05" stroke="#231f20" stroke-width="0.9"/>
<text x="109.00" y="235.15" font-size="6.8" stroke="#231f20" stroke-width="0.12" textLength="61" lengthAdjust="spacing">organelle localization</text>
<line x1="102.70" y1="239.43" x2="105.60" y2="239.43" stroke="#231f20" stroke-width="0.9"/>
<text x="109.00" y="241.53" font-size="6.8" stroke="#231f20" stroke-width="0.12" textLength="129.1" lengthAdjust="spacing">nucleobase−containing compound transport</text>
<line x1="102.70" y1="245.81" x2="105.60" y2="245.81" stroke="#231f20" stroke-width="0.9"/>
<text x="109.00" y="247.91" font-size="6.8" stroke="#231f20" stroke-width="0.12" textLength="74.6" lengthAdjust="spacing">ncRNA metabolic process</text>
<line x1="102.70" y1="252.19" x2="105.60" y2="252.19" stroke="#231f20" stroke-width="0.9"/>
<text x="109.00" y="254.29" font-size="6.8" stroke="#231f20" stroke-width="0.12" textLength="51.7" lengthAdjust="spacing">mRNA processing</text>
<line x1="102.70" y1="258.57" x2="105.60" y2="258.57" stroke="#231f20" stroke-width="0.9"/>
<text x="109.00" y="260.67" font-size="6.8" stroke="#231f20" stroke-width="0.12" textLength="79.9" lengthAdjust="spacing">mitochondrion organization</text>
<line x1="102.70" y1="264.95" x2="105.60" y2="264.95" stroke="#231f20" stroke-width="0.9"/>
<text x="109.00" y="267.05" font-size="6.8" stroke="#231f20" stroke-width="0.12" textLength="80.6" lengthAdjust="spacing">microtubule−based process</text>
<line x1="102.70" y1="271.33" x2="105.60" y2="271.33" stroke="#231f20" stroke-width="0.9"/>
<text x="109.00" y="273.43" font-size="6.8" stroke="#231f20" stroke-width="0.12" textLength="79.9" lengthAdjust="spacing">macromolecule methylation</text>
<line x1="102.70" y1="277.71" x2="105.60" y2="277.71" stroke="#231f20" stroke-width="0.9"/>
<text x="109.00" y="279.81" font-size="6.8" stroke="#231f20" stroke-width="0.12" textLength="46.2" lengthAdjust="spacing">DNA replication</text>
<line x1="102.70" y1="284.09" x2="105.60" y2="284.09" stroke="#231f20" stroke-width="0.9"/>
<text x="109.00" y="286.19" font-size="6.8" stroke="#231f20" stroke-width="0.12" textLength="32.7" lengthAdjust="spacing">DNA repair</text>
<line x1="102.70" y1="290.47" x2="105.60" y2="290.47" stroke="#231f20" stroke-width="0.9"/>
<text x="109.00" y="292.57" font-size="6.8" stroke="#231f20" stroke-width="0.12" textLength="73.7" lengthAdjust="spacing">DNA integrity checkpoint</text>
<line x1="102.70" y1="296.85" x2="105.60" y2="296.85" stroke="#231f20" stroke-width="0.9"/>
<text x="109.00" y="298.95" font-size="6.8" stroke="#231f20" stroke-width="0.12" textLength="44.4" lengthAdjust="spacing">cilium assembly</text>
<line x1="102.70" y1="303.23" x2="105.60" y2="303.23" stroke="#231f20" stroke-width="0.9"/>
<text x="109.00" y="305.33" font-size="6.8" stroke="#231f20" stroke-width="0.12" textLength="28.3" lengthAdjust="spacing">Cell Cycle</text>
<line x1="102.70" y1="309.61" x2="105.60" y2="309.61" stroke="#231f20" stroke-width="0.9"/>
<text x="109.00" y="311.71" font-size="6.8" stroke="#231f20" stroke-width="0.12" textLength="30.6" lengthAdjust="spacing">autophagy</text>
<line x1="40.15" y1="313.20" x2="40.15" y2="316.20" stroke="#231f20" stroke-width="0.9"/>
<line x1="57.90" y1="313.20" x2="57.90" y2="316.20" stroke="#231f20" stroke-width="0.9"/>
<line x1="75.60" y1="313.20" x2="75.60" y2="316.20" stroke="#231f20" stroke-width="0.9"/>
<line x1="93.35" y1="313.20" x2="93.35" y2="316.20" stroke="#231f20" stroke-width="0.9"/>
<text x="43.15" y="322.00" font-size="6.6" text-anchor="end" transform="rotate(-45 43.15 322.00)">HSC/MPP</text>
<text x="60.90" y="322.00" font-size="6.6" text-anchor="end" transform="rotate(-45 60.90 322.00)">LMPP</text>
<text x="78.60" y="322.00" font-size="6.6" text-anchor="end" transform="rotate(-45 78.60 322.00)">MEP</text>
<text x="96.35" y="322.00" font-size="6.6" text-anchor="end" transform="rotate(-45 96.35 322.00)">Neu2</text>
<text x="109.80" y="324.60" font-size="6.3">-log<tspan font-size="4.3" dy="1.5">10</tspan><tspan dy="-1.5">(adj</tspan><tspan font-style="italic">P</tspan>)</text>
<defs><linearGradient id="gD" x1="0" x2="1" y1="0" y2="0"><stop offset="0" stop-color="#f9efea"/><stop offset="0.33" stop-color="#dba58c"/><stop offset="0.66" stop-color="#b5603a"/><stop offset="1" stop-color="#8a2a10"/></linearGradient><linearGradient id="gE" x1="0" x2="1" y1="0" y2="0"><stop offset="0" stop-color="#ead3bd"/><stop offset="0.48" stop-color="#e0741e"/><stop offset="0.5" stop-color="#dc5a18"/><stop offset="1" stop-color="#d01c18"/></linearGradient></defs>
<rect x="104.60" y="328.00" width="41.50" height="5.00" fill="url(#gD)"/>
<line x1="115.60" y1="328.00" x2="115.60" y2="333.00" stroke="#ffffff" stroke-width="0.5" opacity="0.6"/>
<line x1="130.50" y1="328.00" x2="130.50" y2="333.00" stroke="#ffffff" stroke-width="0.5" opacity="0.6"/>
<text x="115.60" y="341.80" font-size="6.6" text-anchor="middle">5</text>
<text x="130.20" y="341.80" font-size="6.6" text-anchor="middle">10</text>
<text x="145.60" y="341.80" font-size="6.6" text-anchor="middle">15</text>
<circle cx="399.80" cy="191.40" r="2.00" fill="#d9a27a"/>
<circle cx="411.73" cy="191.40" r="3.80" fill="#e0904a"/>
<circle cx="423.66" cy="191.40" r="2.60" fill="#dcaa88"/>
<circle cx="435.59" cy="191.40" r="3.80" fill="#e09a5a"/>
<circle cx="447.52" cy="191.40" r="3.70" fill="#cc3a1c"/>
<circle cx="459.45" cy="191.40" r="3.60" fill="#e0a070"/>
<circle cx="399.80" cy="203.97" r="4.60" fill="#cc1016"/>
<circle cx="411.73" cy="203.97" r="4.50" fill="#cc3018"/>
<circle cx="423.66" cy="203.97" r="4.50" fill="#d45018"/>
<circle cx="435.59" cy="203.97" r="4.50" fill="#dc7020"/>
<circle cx="447.52" cy="203.97" r="4.00" fill="#cc3018"/>
<circle cx="459.45" cy="203.97" r="4.60" fill="#d86018"/>
<circle cx="399.80" cy="216.54" r="3.20" fill="#d87025"/>
<circle cx="411.73" cy="216.54" r="4.60" fill="#cc3018"/>
<circle cx="423.66" cy="216.54" r="2.80" fill="#dca68a"/>
<circle cx="435.59" cy="216.54" r="4.20" fill="#dc6e22"/>
<circle cx="447.52" cy="216.54" r="3.70" fill="#cc3518"/>
<circle cx="459.45" cy="216.54" r="3.50" fill="#e09a60"/>
<circle cx="399.80" cy="229.11" r="3.90" fill="#d45a1a"/>
<circle cx="423.66" cy="229.11" r="2.60" fill="#dcae90"/>
<circle cx="435.59" cy="229.11" r="3.80" fill="#e0a06a"/>
<circle cx="447.52" cy="229.11" r="3.30" fill="#dc7325"/>
<circle cx="459.45" cy="229.11" r="2.80" fill="#dcac8c"/>
<circle cx="399.80" cy="241.68" r="3.20" fill="#e0a070"/>
<circle cx="411.73" cy="241.68" r="4.50" fill="#dc7a30"/>
<circle cx="435.59" cy="241.68" r="4.60" fill="#dc8a48"/>
<circle cx="447.52" cy="241.68" r="3.60" fill="#dc7325"/>
<circle cx="459.45" cy="241.68" r="4.00" fill="#e0a878"/>
<circle cx="399.80" cy="254.25" r="3.50" fill="#dc7a30"/>
<circle cx="411.73" cy="254.25" r="4.30" fill="#dc8038"/>
<circle cx="423.66" cy="254.25" r="3.80" fill="#dc9050"/>
<circle cx="435.59" cy="254.25" r="3.80" fill="#e0a070"/>
<circle cx="447.52" cy="254.25" r="3.00" fill="#dc7325"/>
<circle cx="459.45" cy="254.25" r="3.80" fill="#e0a070"/>
<circle cx="399.80" cy="266.82" r="3.50" fill="#d86a20"/>
<circle cx="423.66" cy="266.82" r="3.80" fill="#e0a070"/>
<circle cx="435.59" cy="266.82" r="3.60" fill="#dcac8a"/>
<circle cx="447.52" cy="266.82" r="2.60" fill="#e0a070"/>
<circle cx="459.45" cy="266.82" r="4.00" fill="#dc9050"/>
<circle cx="399.80" cy="279.39" r="3.00" fill="#dc7a30"/>
<circle cx="411.73" cy="279.39" r="4.10" fill="#d86a20"/>
<circle cx="423.66" cy="279.39" r="3.50" fill="#dc8a40"/>
<circle cx="435.59" cy="279.39" r="3.50" fill="#e09a60"/>
<circle cx="447.52" cy="279.39" r="3.20" fill="#cc4a12"/>
<circle cx="459.45" cy="279.39" r="3.40" fill="#e0a070"/>
<circle cx="399.80" cy="291.96" r="3.50" fill="#d86a20"/>
<circle cx="411.73" cy="291.96" r="2.90" fill="#dca888"/>
<circle cx="423.66" cy="291.96" r="2.60" fill="#dca888"/>
<circle cx="447.52" cy="291.96" r="1.20" fill="#dca888"/>
<circle cx="459.45" cy="291.96" r="4.00" fill="#dc8540"/>
<circle cx="411.73" cy="304.53" r="3.20" fill="#dcb498"/>
<circle cx="435.59" cy="304.53" r="3.20" fill="#dcb498"/>
<circle cx="447.52" cy="304.53" r="3.50" fill="#dc7a30"/>
<circle cx="459.45" cy="304.53" r="4.30" fill="#e0a070"/>
<rect x="392.4" y="183.1" width="74.3" height="128.7" fill="none" stroke="#231f20" stroke-width="1.1"/>
<line x1="389.50" y1="191.40" x2="392.40" y2="191.40" stroke="#231f20" stroke-width="0.9"/>
<text x="385.80" y="193.70" font-size="6.6" text-anchor="end" stroke="#231f20" stroke-width="0.12" textLength="32.5" lengthAdjust="spacing">DNA repair</text>
<line x1="389.50" y1="203.97" x2="392.40" y2="203.97" stroke="#231f20" stroke-width="0.9"/>
<text x="385.80" y="206.27" font-size="6.6" text-anchor="end" stroke="#231f20" stroke-width="0.12" textLength="51.75" lengthAdjust="spacing">mRNA processing</text>
<line x1="389.50" y1="216.54" x2="392.40" y2="216.54" stroke="#231f20" stroke-width="0.9"/>
<text x="385.80" y="218.84" font-size="6.6" text-anchor="end" stroke="#231f20" stroke-width="0.12" textLength="28.75" lengthAdjust="spacing">Cell Cycle</text>
<line x1="389.50" y1="229.11" x2="392.40" y2="229.11" stroke="#231f20" stroke-width="0.9"/>
<text x="385.80" y="231.41" font-size="6.6" text-anchor="end" stroke="#231f20" stroke-width="0.12" textLength="74.5" lengthAdjust="spacing">ncRNA metabolic process</text>
<line x1="389.50" y1="241.68" x2="392.40" y2="241.68" stroke="#231f20" stroke-width="0.9"/>
<text x="385.80" y="243.98" font-size="6.6" text-anchor="end" stroke="#231f20" stroke-width="0.12" textLength="114" lengthAdjust="spacing">regulation of chromosome organization</text>
<line x1="389.50" y1="254.25" x2="392.40" y2="254.25" stroke="#231f20" stroke-width="0.9"/>
<text x="385.80" y="256.55" font-size="6.6" text-anchor="end" stroke="#231f20" stroke-width="0.12" textLength="110.75" lengthAdjust="spacing">ribonucleoprotein complex biogenesis</text>
<line x1="389.50" y1="266.82" x2="392.40" y2="266.82" stroke="#231f20" stroke-width="0.9"/>
<text x="385.80" y="269.12" font-size="6.6" text-anchor="end" stroke="#231f20" stroke-width="0.12" textLength="92.75" lengthAdjust="spacing">covalent chromatin modification</text>
<line x1="389.50" y1="279.39" x2="392.40" y2="279.39" stroke="#231f20" stroke-width="0.9"/>
<text x="385.80" y="281.69" font-size="6.6" text-anchor="end" stroke="#231f20" stroke-width="0.12" textLength="88.75" lengthAdjust="spacing">regulation of cell cycle process</text>
<line x1="389.50" y1="291.96" x2="392.40" y2="291.96" stroke="#231f20" stroke-width="0.9"/>
<text x="385.80" y="294.26" font-size="6.6" text-anchor="end" stroke="#231f20" stroke-width="0.12" textLength="83.25" lengthAdjust="spacing">peptide biosynthetic process</text>
<line x1="389.50" y1="304.53" x2="392.40" y2="304.53" stroke="#231f20" stroke-width="0.9"/>
<text x="385.80" y="306.83" font-size="6.6" text-anchor="end" stroke="#231f20" stroke-width="0.12" textLength="107.5" lengthAdjust="spacing">regulation of DNA metabolic process</text>
<line x1="399.80" y1="311.80" x2="399.80" y2="314.00" stroke="#231f20" stroke-width="0.9"/>
<text x="402.00" y="317.50" font-size="6.5" text-anchor="end" transform="rotate(-45 402.00 317.50)">P18</text>
<line x1="411.73" y1="311.80" x2="411.73" y2="314.00" stroke="#231f20" stroke-width="0.9"/>
<text x="413.93" y="317.50" font-size="6.5" text-anchor="end" transform="rotate(-45 413.93 317.50)">P19</text>
<line x1="423.66" y1="311.80" x2="423.66" y2="314.00" stroke="#231f20" stroke-width="0.9"/>
<text x="425.86" y="317.50" font-size="6.5" text-anchor="end" transform="rotate(-45 425.86 317.50)">P20</text>
<line x1="435.59" y1="311.80" x2="435.59" y2="314.00" stroke="#231f20" stroke-width="0.9"/>
<text x="437.79" y="317.50" font-size="6.5" text-anchor="end" transform="rotate(-45 437.79 317.50)">P21</text>
<line x1="447.52" y1="311.80" x2="447.52" y2="314.00" stroke="#231f20" stroke-width="0.9"/>
<text x="449.72" y="317.50" font-size="6.5" text-anchor="end" transform="rotate(-45 449.72 317.50)">P22</text>
<line x1="459.45" y1="311.80" x2="459.45" y2="314.00" stroke="#231f20" stroke-width="0.9"/>
<text x="461.65" y="317.50" font-size="6.5" text-anchor="end" transform="rotate(-45 461.65 317.50)">P23</text>
<text x="281.00" y="320.30" font-size="6.6" stroke="#231f20" stroke-width="0.1" textLength="50.2" lengthAdjust="spacingAndGlyphs">Enrichment score</text>
<circle cx="287.30" cy="325.00" r="1.30" fill="#000"/>
<text x="289.60" y="339.80" font-size="6.8" transform="rotate(-90 289.60 339.80)" textLength="9.5" lengthAdjust="spacingAndGlyphs">2.0</text>
<circle cx="295.90" cy="325.00" r="1.80" fill="#000"/>
<text x="298.20" y="339.80" font-size="6.8" transform="rotate(-90 298.20 339.80)" textLength="9.5" lengthAdjust="spacingAndGlyphs">2.5</text>
<circle cx="304.20" cy="325.00" r="2.20" fill="#000"/>
<text x="306.50" y="339.80" font-size="6.8" transform="rotate(-90 306.50 339.80)" textLength="9.5" lengthAdjust="spacingAndGlyphs">3.0</text>
<circle cx="313.20" cy="325.00" r="2.60" fill="#000"/>
<text x="315.50" y="339.80" font-size="6.8" transform="rotate(-90 315.50 339.80)" textLength="9.5" lengthAdjust="spacingAndGlyphs">3.5</text>
<circle cx="322.70" cy="325.00" r="3.00" fill="#000"/>
<text x="325.00" y="339.80" font-size="6.8" transform="rotate(-90 325.00 339.80)" textLength="9.5" lengthAdjust="spacingAndGlyphs">4.0</text>
<text x="344.40" y="319.40" font-size="6.1">-log<tspan font-size="4.2" dy="1.5">10</tspan><tspan dy="-1.5">(adj</tspan><tspan font-style="italic">P</tspan>)</text>
<rect x="345.90" y="323.20" width="29.60" height="5.40" fill="url(#gE)"/>
<line x1="360.70" y1="323.20" x2="360.70" y2="328.60" stroke="#ffffff" stroke-width="0.4" opacity="0.5"/>
<text x="346.90" y="337.80" font-size="6.6" text-anchor="middle">0</text>
<text x="361.30" y="337.80" font-size="6.6" text-anchor="middle">5</text>
<text x="374.40" y="337.80" font-size="6.6" text-anchor="middle">10</text>
<text x="18.10" y="381.90" font-size="8.87" stroke="#231f20" stroke-width="0.12" textLength="186.6" lengthAdjust="spacingAndGlyphs">Differentially alternatively spliced genes overlap</text>
<text x="112.20" y="392.40" font-size="8.7" text-anchor="middle" stroke="#231f20" stroke-width="0.12" textLength="84.8" lengthAdjust="spacingAndGlyphs">between AA and MDS</text>
<ellipse cx="68.2" cy="460.3" rx="36.3" ry="34.5" fill="#5a6ea3"/>
<ellipse cx="68.1" cy="442.3" rx="34.4" ry="32.3" fill="#bb2d52"/>
<clipPath id="cpF"><ellipse cx="68.2" cy="460.3" rx="36.3" ry="34.5"/></clipPath>
<ellipse cx="68.1" cy="442.3" rx="35.3" ry="33.4" fill="#4b4679" clip-path="url(#cpF)"/>
<text x="67.20" y="406.00" font-size="6.75" text-anchor="middle" fill="#c0284d" textLength="30.8" lengthAdjust="spacingAndGlyphs">AA unique</text>
<text x="68.40" y="423.30" font-size="6.5" text-anchor="middle" fill="#f3e6ea" stroke="#f3e6ea" stroke-width="0.1" textLength="39.4" lengthAdjust="spacingAndGlyphs">1,491 (21.9%)</text>
<text x="66.70" y="444.70" font-size="6.8" text-anchor="middle" fill="#eeeef5" stroke="#eeeef5" stroke-width="0.1" textLength="23.8" lengthAdjust="spacingAndGlyphs">Overlap</text>
<text x="66.70" y="452.80" font-size="6.7" text-anchor="middle" fill="#eeeef5" stroke="#eeeef5" stroke-width="0.1" textLength="40.2" lengthAdjust="spacingAndGlyphs">3,448 (50.7%)</text>
<text x="65.40" y="485.60" font-size="6.7" text-anchor="middle" fill="#eef0f6" stroke="#eef0f6" stroke-width="0.1" textLength="39.2" lengthAdjust="spacingAndGlyphs">1,861 (27.4%)</text>
<text x="67.40" y="505.70" font-size="6.75" text-anchor="middle" fill="#3b5796" textLength="35.3" lengthAdjust="spacingAndGlyphs">MDS unique</text>
<line x1="92.70" y1="422.40" x2="117.20" y2="411.40" stroke="#231f20" stroke-width="0.9"/>
<line x1="94.00" y1="458.00" x2="116.50" y2="458.00" stroke="#231f20" stroke-width="0.9"/>
<line x1="96.70" y1="477.30" x2="117.20" y2="500.60" stroke="#231f20" stroke-width="0.9"/>
<circle cx="122.00" cy="400.40" r="1.05" fill="#c0284d"/>
<text x="125.60" y="402.60" font-size="6.7" fill="#c0284d" stroke="#c0284d" stroke-width="0.12" textLength="84.6" lengthAdjust="spacing">intracellular protein transport</text>
<circle cx="122.00" cy="410.60" r="1.05" fill="#c0284d"/>
<text x="125.60" y="412.80" font-size="6.7" fill="#c0284d" stroke="#c0284d" stroke-width="0.12" textLength="52.2" lengthAdjust="spacing">apoptotic process</text>
<circle cx="122.00" cy="420.90" r="1.05" fill="#c0284d"/>
<text x="125.60" y="423.10" font-size="6.7" fill="#c0284d" stroke="#c0284d" stroke-width="0.12" textLength="46.5" lengthAdjust="spacing">DNA replication</text>
<circle cx="122.00" cy="430.90" r="1.05" fill="#c0284d"/>
<text x="125.60" y="433.10" font-size="6.7" fill="#c0284d" stroke="#c0284d" stroke-width="0.12" textLength="83.1" lengthAdjust="spacing">regulation of GTPase activity</text>
<circle cx="122.00" cy="445.30" r="1.05" fill="#231f20"/>
<text x="125.60" y="447.50" font-size="6.7" stroke="#231f20" stroke-width="0.12" textLength="32.8" lengthAdjust="spacing">DNA repair</text>
<circle cx="122.00" cy="455.30" r="1.05" fill="#231f20"/>
<text x="125.60" y="457.50" font-size="6.7" stroke="#231f20" stroke-width="0.12" textLength="86.7" lengthAdjust="spacing">transcription, DNA-templated</text>
<circle cx="122.00" cy="465.40" r="1.05" fill="#231f20"/>
<text x="125.60" y="467.60" font-size="6.7" stroke="#231f20" stroke-width="0.12" textLength="72.5" lengthAdjust="spacing">cellular response to DNA</text>
<circle cx="122.00" cy="483.40" r="1.05" fill="#231f20"/>
<text x="125.60" y="485.60" font-size="6.7" stroke="#231f20" stroke-width="0.12" textLength="33.4" lengthAdjust="spacing">cell division</text>
<circle cx="122.00" cy="497.70" r="1.05" fill="#2f4f95"/>
<text x="125.60" y="499.90" font-size="6.7" fill="#2f4f95" stroke="#2f4f95" stroke-width="0.12" textLength="32.8" lengthAdjust="spacing">DNA repair</text>
<circle cx="122.00" cy="507.90" r="1.05" fill="#2f4f95"/>
<text x="125.60" y="510.10" font-size="6.7" fill="#2f4f95" stroke="#2f4f95" stroke-width="0.12" textLength="33.4" lengthAdjust="spacing">cell division</text>
<circle cx="122.00" cy="517.40" r="1.05" fill="#2f4f95"/>
<text x="125.60" y="519.60" font-size="6.7" fill="#2f4f95" stroke="#2f4f95" stroke-width="0.12" textLength="95.8" lengthAdjust="spacing">T cell receptor signaling pathway</text>
<circle cx="122.00" cy="528.00" r="1.05" fill="#2f4f95"/>
<text x="125.60" y="530.20" font-size="6.7" fill="#2f4f95" stroke="#2f4f95" stroke-width="0.12" textLength="73.6" lengthAdjust="spacing">NIK/NF-kappaB signaling</text>
<text x="125.60" y="475.70" font-size="6.7" stroke="#231f20" stroke-width="0.12" textLength="49.3" lengthAdjust="spacing">damage stimulus</text>
<text x="279.00" y="418.00" font-size="6.8" text-anchor="middle" stroke="#231f20" stroke-width="0.1" transform="rotate(-90 279.00 418.00)">Coverage</text>
<line x1="283.50" y1="379.60" x2="283.50" y2="402.20" stroke="#231f20" stroke-width="1.1"/>
<line x1="283.00" y1="401.70" x2="354.60" y2="401.70" stroke="#231f20" stroke-width="1.2"/>
<path d="M285.20,401.50 L287.00,400.00 L288.50,397.00 L289.50,394.00 L290.50,391.00 L291.50,389.50 L292.50,388.00 L293.50,387.00 L294.50,385.50 L295.50,384.00 L296.60,382.70 L297.50,384.00 L298.50,386.00 L299.50,387.50 L300.50,389.50 L301.50,388.00 L302.50,390.00 L303.50,391.00 L304.60,390.50 L304.60,401.50 Z" fill="#b01538"/>
<path d="M314.20,401.50 L314.20,391.00 L315.50,390.50 L317.00,392.00 L318.50,391.50 L319.50,393.00 L320.80,392.00 L320.80,401.50 Z" fill="#b01538"/>
<path d="M346.20,401.50 L346.20,389.50 L347.50,389.00 L348.50,388.20 L349.50,388.80 L350.50,387.50 L351.50,387.80 L352.50,386.50 L353.50,386.00 L353.50,401.50 Z" fill="#b01538"/>
<path d="M304.60,401.50 L304.60,392.10 A4.80,4.50 0 0 1 309.40,387.60 L309.40,387.60 A4.80,4.50 0 0 1 314.20,392.10 L314.20,401.50" fill="none" stroke="#b01538" stroke-width="1.2"/>
<path d="M320.80,401.50 L320.80,394.60 A5.00,4.50 0 0 1 325.80,390.10 L341.20,390.10 A5.00,4.50 0 0 1 346.20,394.60 L346.20,401.50" fill="none" stroke="#c8405e" stroke-width="1.0"/>
<text x="285.80" y="383.40" font-size="6.0" fill="#b8203f">AA</text>
<text x="309.40" y="386.40" font-size="5.9" text-anchor="middle" fill="#333">10</text>
<text x="333.50" y="389.60" font-size="5.9" text-anchor="middle" fill="#333">11</text>
<line x1="283.50" y1="414.20" x2="283.50" y2="435.90" stroke="#231f20" stroke-width="1.1"/>
<line x1="283.00" y1="435.40" x2="354.60" y2="435.40" stroke="#231f20" stroke-width="1.2"/>
<path d="M285.30,435.20 L286.50,433.50 L288.00,431.50 L290.00,428.00 L292.00,423.00 L294.00,419.00 L296.00,417.50 L298.00,416.50 L300.00,417.50 L301.00,417.00 L302.00,418.50 L303.50,417.50 L304.70,418.00 L304.70,435.20 Z" fill="#4a5170"/>
<path d="M314.2,435.2 L314.2,426 Q314.2,424.2 316.2,424.2 L319.2,424.2 Q321.2,424.2 321.2,426 L321.2,435.2 Z" fill="#4a5170"/>
<path d="M346.20,435.20 L346.20,421.80 L347.50,421.20 L349.00,421.60 L350.50,420.60 L352.00,420.80 L353.50,420.00 L353.50,435.20 Z" fill="#4a5170"/>
<path d="M304.70,435.20 L304.70,433.30 A4.75,4.50 0 0 1 309.45,428.80 L309.45,428.80 A4.75,4.50 0 0 1 314.20,433.30 L314.20,435.20" fill="none" stroke="#8e94aa" stroke-width="1"/>
<path d="M321.20,435.20 L321.20,433.00 A5.00,3.50 0 0 1 326.20,429.50 L341.20,429.50 A5.00,3.50 0 0 1 346.20,433.00 L346.20,435.20" fill="none" stroke="#8e94aa" stroke-width="1"/>
<path d="M304.70,420.50 C304.70,417.00 346.20,417.00 346.20,421.50" fill="none" stroke="#8e94aa" stroke-width="1"/>
<text x="286.20" y="415.60" font-size="6.0" fill="#6c7596">Ctrl</text>
<text x="324.60" y="417.70" font-size="5.9" text-anchor="middle" fill="#333">68</text>
<text x="310.00" y="428.00" font-size="5.9" text-anchor="middle" fill="#333">31</text>
<text x="333.10" y="428.50" font-size="5.9" text-anchor="middle" fill="#333">13</text>
<line x1="303.80" y1="443.20" x2="346.20" y2="443.20" stroke="#444" stroke-width="0.9"/>
<rect x="283.80" y="442.10" width="20.00" height="2.20" fill="#111"/>
<rect x="313.80" y="442.10" width="7.00" height="2.20" fill="#111"/>
<rect x="346.20" y="442.10" width="8.40" height="2.20" fill="#111"/>
<line x1="303.80" y1="449.30" x2="346.20" y2="449.30" stroke="#222" stroke-width="0.9"/>
<rect x="283.80" y="448.20" width="20.00" height="2.20" fill="#111"/>
<rect x="346.20" y="448.20" width="8.40" height="2.20" fill="#111"/>
<text x="319.40" y="458.30" font-size="7.5" text-anchor="middle" stroke="#231f20" stroke-width="0.15" font-style="italic" textLength="25.8" lengthAdjust="spacingAndGlyphs">FANCG</text>
<line x1="359.60" y1="380.80" x2="359.60" y2="403.00" stroke="#231f20" stroke-width="1.1"/>
<line x1="359.10" y1="402.50" x2="421.60" y2="402.50" stroke="#231f20" stroke-width="1.2"/>
<line x1="361.20" y1="385.00" x2="361.20" y2="402.30" stroke="#b01538" stroke-width="1"/>
<line x1="377.40" y1="388.00" x2="377.40" y2="402.30" stroke="#b01538" stroke-width="1"/>
<line x1="420.80" y1="385.00" x2="420.80" y2="402.30" stroke="#b01538" stroke-width="1"/>
<path d="M361.20,386.00 C361.20,379.47 420.80,379.47 420.80,386.00" fill="none" stroke="#d0607a" stroke-width="0.9"/>
<path d="M361.20,397.00 C361.20,388.30 377.40,388.30 377.40,394.00" fill="none" stroke="#b01538" stroke-width="1.3"/>
<path d="M377.40,394.00 C377.40,387.23 420.80,387.23 420.80,397.00" fill="none" stroke="#b01538" stroke-width="1.3"/>
<text x="390.60" y="380.50" font-size="5.9" text-anchor="middle" fill="#333">6</text>
<text x="367.40" y="389.00" font-size="5.9" text-anchor="middle" fill="#333">69</text>
<text x="399.10" y="389.00" font-size="5.9" text-anchor="middle" fill="#333">88</text>
<line x1="359.60" y1="414.90" x2="359.60" y2="436.80" stroke="#231f20" stroke-width="1.1"/>
<line x1="359.10" y1="436.30" x2="421.60" y2="436.30" stroke="#231f20" stroke-width="1.2"/>
<line x1="361.20" y1="420.00" x2="361.20" y2="436.10" stroke="#4a5170" stroke-width="1"/>
<line x1="377.40" y1="428.00" x2="377.40" y2="436.10" stroke="#4a5170" stroke-width="1"/>
<line x1="420.80" y1="420.00" x2="420.80" y2="436.10" stroke="#4a5170" stroke-width="1"/>
<path d="M361.20,424.00 C361.20,416.67 420.80,416.67 420.80,424.00" fill="none" stroke="#4a5170" stroke-width="1"/>
<path d="M361.20,436.00 C361.20,425.47 377.40,425.47 377.40,432.00" fill="none" stroke="#4a5170" stroke-width="1"/>
<path d="M377.40,432.00 C377.40,425.07 420.80,425.07 420.80,436.00" fill="none" stroke="#4a5170" stroke-width="1"/>
<text x="390.60" y="417.70" font-size="5.9" text-anchor="middle" fill="#333">90</text>
<text x="369.20" y="426.20" font-size="5.9" text-anchor="middle" fill="#333">54</text>
<text x="399.10" y="426.20" font-size="5.9" text-anchor="middle" fill="#333">56</text>
<line x1="360.90" y1="442.80" x2="420.00" y2="442.80" stroke="#1a1a1a" stroke-width="1.1"/>
<line x1="360.90" y1="441.50" x2="360.90" y2="444.10" stroke="#1a1a1a" stroke-width="0.9"/>
<line x1="420.00" y1="441.50" x2="420.00" y2="444.10" stroke="#1a1a1a" stroke-width="0.9"/>
<line x1="360.90" y1="449.40" x2="420.00" y2="449.40" stroke="#1a1a1a" stroke-width="1.1"/>
<line x1="360.90" y1="448.10" x2="360.90" y2="450.70" stroke="#1a1a1a" stroke-width="0.9"/>
<line x1="420.00" y1="448.10" x2="420.00" y2="450.70" stroke="#1a1a1a" stroke-width="0.9"/>
<line x1="377.40" y1="441.50" x2="377.40" y2="444.10" stroke="#1a1a1a" stroke-width="0.9"/>
<text x="390.60" y="458.40" font-size="7.5" text-anchor="middle" stroke="#231f20" stroke-width="0.15" font-style="italic">ATF2</text>
<line x1="426.50" y1="380.80" x2="426.50" y2="403.00" stroke="#231f20" stroke-width="1.1"/>
<line x1="426.00" y1="402.50" x2="490.40" y2="402.50" stroke="#231f20" stroke-width="1.2"/>
<line x1="428.50" y1="388.00" x2="428.50" y2="402.30" stroke="#b01538" stroke-width="1"/>
<line x1="451.70" y1="398.00" x2="451.70" y2="402.30" stroke="#b01538" stroke-width="1"/>
<line x1="488.60" y1="386.00" x2="488.60" y2="402.30" stroke="#b01538" stroke-width="1"/>
<path d="M428.50,391.00 C428.50,384.73 488.60,384.73 488.60,391.00" fill="none" stroke="#b01538" stroke-width="1.3"/>
<path d="M428.50,402.30 C428.50,387.10 451.70,387.10 451.70,402.30" fill="none" stroke="#b01538" stroke-width="1.2"/>
<path d="M451.70,402.30 C451.70,395.92 488.60,395.92 488.60,395.00" fill="none" stroke="#d0607a" stroke-width="1"/>
<text x="458.70" y="385.60" font-size="5.9" text-anchor="middle" fill="#333">129</text>
<text x="440.10" y="394.60" font-size="5.9" text-anchor="middle" fill="#333">7</text>
<text x="470.30" y="396.00" font-size="5.9" text-anchor="middle" fill="#333">6</text>
<line x1="426.50" y1="414.90" x2="426.50" y2="436.80" stroke="#231f20" stroke-width="1.1"/>
<line x1="426.00" y1="436.30" x2="490.40" y2="436.30" stroke="#231f20" stroke-width="1.2"/>
<line x1="428.50" y1="420.00" x2="428.50" y2="436.10" stroke="#4a5170" stroke-width="1"/>
<line x1="451.70" y1="424.00" x2="451.70" y2="436.10" stroke="#4a5170" stroke-width="1"/>
<line x1="488.60" y1="420.00" x2="488.60" y2="436.10" stroke="#4a5170" stroke-width="1"/>
<path d="M428.50,424.00 C428.50,414.93 488.60,414.93 488.60,424.00" fill="none" stroke="#4a5170" stroke-width="1"/>
<path d="M428.50,436.00 C428.50,424.80 451.70,424.80 451.70,436.00" fill="none" stroke="#4a5170" stroke-width="1"/>
<path d="M451.70,436.00 C451.70,424.40 488.60,424.40 488.60,436.00" fill="none" stroke="#4a5170" stroke-width="1"/>
<text x="458.70" y="416.10" font-size="5.9" text-anchor="middle" fill="#333">135</text>
<text x="440.00" y="425.40" font-size="5.9" text-anchor="middle" fill="#333">359</text>
<text x="470.30" y="425.00" font-size="5.9" text-anchor="middle" fill="#333">477</text>
<line x1="428.50" y1="442.80" x2="488.60" y2="442.80" stroke="#1a1a1a" stroke-width="1.1"/>
<line x1="428.50" y1="441.50" x2="428.50" y2="444.10" stroke="#1a1a1a" stroke-width="0.9"/>
<line x1="488.60" y1="441.50" x2="488.60" y2="444.10" stroke="#1a1a1a" stroke-width="0.9"/>
<line x1="428.50" y1="449.40" x2="488.60" y2="449.40" stroke="#1a1a1a" stroke-width="1.1"/>
<line x1="428.50" y1="448.10" x2="428.50" y2="450.70" stroke="#1a1a1a" stroke-width="0.9"/>
<line x1="488.60" y1="448.10" x2="488.60" y2="450.70" stroke="#1a1a1a" stroke-width="0.9"/>
<line x1="451.70" y1="441.50" x2="451.70" y2="444.10" stroke="#1a1a1a" stroke-width="0.9"/>
<text x="458.70" y="458.40" font-size="7.5" text-anchor="middle" stroke="#231f20" stroke-width="0.15" font-style="italic">RFC1</text>
<text x="279.00" y="534.80" font-size="6.8" text-anchor="middle" stroke="#231f20" stroke-width="0.1" transform="rotate(-90 279.00 534.80)">Coverage</text>
<line x1="283.50" y1="497.70" x2="283.50" y2="519.90" stroke="#231f20" stroke-width="1.1"/>
<line x1="283.00" y1="519.40" x2="354.60" y2="519.40" stroke="#231f20" stroke-width="1.2"/>
<path d="M285.30,519.20 L287.00,516.00 L289.00,512.00 L291.00,508.00 L292.50,506.00 L293.50,504.00 L294.50,505.00 L296.00,502.50 L297.00,502.00 L298.00,504.00 L299.00,505.50 L300.00,504.00 L301.00,507.50 L302.00,508.00 L303.00,506.50 L304.00,507.00 L304.70,505.50 L304.70,519.20 Z" fill="#2f4f8f"/>
<path d="M314.20,519.20 L314.20,505.00 L315.20,503.50 L316.20,502.00 L316.90,501.50 L317.80,503.00 L319.00,502.80 L320.00,503.50 L321.20,503.20 L321.20,519.20 Z" fill="#2f4f8f"/>
<path d="M346.20,519.20 L346.20,500.50 L347.20,501.50 L348.20,500.80 L349.20,502.50 L350.20,501.50 L351.20,503.00 L352.20,502.20 L353.50,503.50 L353.50,519.20 Z" fill="#2f4f8f"/>
<path d="M304.70,519.20 L304.70,517.30 A4.75,4.50 0 0 1 309.45,512.80 L309.45,512.80 A4.75,4.50 0 0 1 314.20,517.30 L314.20,519.20" fill="none" stroke="#2f4f8f" stroke-width="1.2"/>
<path d="M321.20,519.20 L321.20,515.00 A5.00,4.50 0 0 1 326.20,510.50 L341.20,510.50 A5.00,4.50 0 0 1 346.20,515.00 L346.20,519.20" fill="none" stroke="#2f4f8f" stroke-width="1.2"/>
<path d="M304.70,506.50 C304.70,496.62 346.20,496.62 346.20,505.00" fill="none" stroke="#a9b6d3" stroke-width="0.9"/>
<text x="286.90" y="499.60" font-size="6.0" fill="#3b5796">MDS</text>
<text x="324.90" y="498.60" font-size="5.9" text-anchor="middle" fill="#333">1</text>
<text x="310.80" y="509.40" font-size="5.9" text-anchor="middle" fill="#333">320</text>
<text x="332.00" y="509.40" font-size="5.9" text-anchor="middle" fill="#333">408</text>
<line x1="283.50" y1="531.90" x2="283.50" y2="553.60" stroke="#231f20" stroke-width="1.1"/>
<line x1="283.00" y1="553.10" x2="354.60" y2="553.10" stroke="#231f20" stroke-width="1.2"/>
<path d="M285.30,552.90 L287.00,549.00 L289.00,545.00 L290.50,542.00 L292.00,541.00 L293.50,538.00 L295.00,537.50 L296.00,540.00 L297.00,538.50 L298.00,537.00 L299.00,540.00 L300.00,542.00 L301.00,540.50 L302.00,537.00 L303.00,535.00 L304.20,533.50 L304.60,534.00 L304.60,552.90 Z" fill="#4a5170"/>
<path d="M314.40,552.90 L314.40,544.00 L315.20,543.20 L316.00,544.00 L316.00,552.90 Z" fill="#4a5170"/>
<path d="M346.20,552.90 L346.20,550.50 L347.50,549.50 L349.00,550.20 L350.50,549.30 L352.00,550.50 L353.50,551.00 L353.50,552.90 Z" fill="#4a5170"/>
<path d="M304.60,552.90 L304.60,552.00 A4.80,3.50 0 0 1 309.40,548.50 L309.40,548.50 A4.80,3.50 0 0 1 314.20,552.00 L314.20,552.90" fill="none" stroke="#8e94aa" stroke-width="1"/>
<path d="M320.80,552.90 L320.80,550.20 A5.00,4.00 0 0 1 325.80,546.20 L341.20,546.20 A5.00,4.00 0 0 1 346.20,550.20 L346.20,552.90" fill="none" stroke="#8e94aa" stroke-width="1"/>
<path d="M304.60,539.00 C304.60,536.50 346.20,536.50 346.20,542.00" fill="none" stroke="#8e94aa" stroke-width="1"/>
<text x="286.20" y="532.30" font-size="6.0" fill="#6c7596">Ctrl</text>
<text x="325.40" y="537.00" font-size="5.9" text-anchor="middle" fill="#333">266</text>
<text x="311.50" y="547.20" font-size="5.9" text-anchor="middle" fill="#333">1240</text>
<text x="331.50" y="546.20" font-size="5.9" text-anchor="middle" fill="#333">36</text>
<line x1="303.80" y1="559.20" x2="346.20" y2="559.20" stroke="#444" stroke-width="0.9"/>
<rect x="283.80" y="558.10" width="20.00" height="2.20" fill="#111"/>
<rect x="313.80" y="558.10" width="7.00" height="2.20" fill="#111"/>
<rect x="346.20" y="558.10" width="8.40" height="2.20" fill="#111"/>
<line x1="303.80" y1="566.00" x2="346.20" y2="566.00" stroke="#222" stroke-width="0.9"/>
<rect x="283.80" y="564.90" width="20.00" height="2.20" fill="#111"/>
<rect x="346.20" y="564.90" width="8.40" height="2.20" fill="#111"/>
<text x="319.40" y="575.20" font-size="7.5" text-anchor="middle" stroke="#231f20" stroke-width="0.15" font-style="italic" textLength="25.8" lengthAdjust="spacingAndGlyphs">FANCG</text>
<line x1="359.80" y1="498.00" x2="359.80" y2="519.70" stroke="#231f20" stroke-width="1.1"/>
<line x1="359.30" y1="519.20" x2="422.90" y2="519.20" stroke="#231f20" stroke-width="1.2"/>
<line x1="361.40" y1="505.00" x2="361.40" y2="519.00" stroke="#2f4f8f" stroke-width="1"/>
<line x1="377.00" y1="506.00" x2="377.00" y2="519.00" stroke="#2f4f8f" stroke-width="1"/>
<line x1="420.30" y1="503.00" x2="420.30" y2="519.00" stroke="#2f4f8f" stroke-width="1"/>
<path d="M361.40,519.00 C361.40,505.73 377.00,505.73 377.00,513.00" fill="none" stroke="#2f4f8f" stroke-width="1.1"/>
<path d="M377.00,513.00 C377.00,503.80 420.30,503.80 420.30,517.00" fill="none" stroke="#2f4f8f" stroke-width="1.1"/>
<text x="368.70" y="505.20" font-size="5.9" text-anchor="middle" fill="#333">691</text>
<text x="398.80" y="504.30" font-size="5.9" text-anchor="middle" fill="#333">964</text>
<line x1="359.80" y1="532.40" x2="359.80" y2="553.50" stroke="#231f20" stroke-width="1.1"/>
<line x1="359.30" y1="553.00" x2="422.90" y2="553.00" stroke="#231f20" stroke-width="1.2"/>
<line x1="361.40" y1="537.00" x2="361.40" y2="552.80" stroke="#4a5170" stroke-width="1"/>
<line x1="377.00" y1="548.00" x2="377.00" y2="552.80" stroke="#4a5170" stroke-width="1"/>
<line x1="420.30" y1="537.00" x2="420.30" y2="552.80" stroke="#4a5170" stroke-width="1"/>
<path d="M361.40,541.00 C361.40,534.07 420.30,534.07 420.30,541.00" fill="none" stroke="#4a5170" stroke-width="1"/>
<path d="M361.40,552.80 C361.40,546.27 377.00,546.27 377.00,552.80" fill="none" stroke="#4a5170" stroke-width="1"/>
<path d="M377.00,552.80 C377.00,546.27 420.30,546.27 420.30,552.80" fill="none" stroke="#4a5170" stroke-width="1"/>
<text x="391.00" y="535.60" font-size="5.9" text-anchor="middle" fill="#333">1425</text>
<text x="369.10" y="547.30" font-size="5.9" text-anchor="middle" fill="#333">297</text>
<text x="396.80" y="547.00" font-size="5.9" text-anchor="middle" fill="#333">424</text>
<line x1="361.40" y1="559.40" x2="420.30" y2="559.40" stroke="#1a1a1a" stroke-width="1.1"/>
<line x1="361.40" y1="558.10" x2="361.40" y2="560.70" stroke="#1a1a1a" stroke-width="0.9"/>
<line x1="420.30" y1="558.10" x2="420.30" y2="560.70" stroke="#1a1a1a" stroke-width="0.9"/>
<line x1="361.40" y1="565.90" x2="420.30" y2="565.90" stroke="#1a1a1a" stroke-width="1.1"/>
<line x1="361.40" y1="564.60" x2="361.40" y2="567.20" stroke="#1a1a1a" stroke-width="0.9"/>
<line x1="420.30" y1="564.60" x2="420.30" y2="567.20" stroke="#1a1a1a" stroke-width="0.9"/>
<line x1="377.00" y1="558.10" x2="377.00" y2="560.70" stroke="#1a1a1a" stroke-width="0.9"/>
<text x="392.00" y="575.30" font-size="7.5" text-anchor="middle" stroke="#231f20" stroke-width="0.15" font-style="italic">ATF2</text>
<line x1="428.20" y1="498.00" x2="428.20" y2="519.70" stroke="#231f20" stroke-width="1.1"/>
<line x1="427.70" y1="519.20" x2="491.80" y2="519.20" stroke="#231f20" stroke-width="1.2"/>
<line x1="430.00" y1="504.00" x2="430.00" y2="519.00" stroke="#2f4f8f" stroke-width="1.6"/>
<line x1="490.10" y1="503.00" x2="490.10" y2="519.00" stroke="#2f4f8f" stroke-width="1.6"/>
<path d="M430.00,506.00 C430.00,496.70 490.10,496.70 490.10,505.00" fill="none" stroke="#3d5c9c" stroke-width="1.4"/>
<path d="M430,505 C440,500 448,505 452.6,519" fill="none" stroke="#a9b6d3" stroke-width="0.9"/>
<path d="M452.6,519 C458,510 480,508 490.1,505" fill="none" stroke="#7f93bf" stroke-width="0.9"/>
<text x="459.20" y="497.50" font-size="5.9" text-anchor="middle" fill="#333">545</text>
<text x="449.20" y="504.00" font-size="5.9" text-anchor="middle" fill="#333">2</text>
<text x="477.20" y="510.40" font-size="5.9" text-anchor="middle" fill="#333">5</text>
<line x1="428.20" y1="531.90" x2="428.20" y2="553.50" stroke="#231f20" stroke-width="1.1"/>
<line x1="427.70" y1="553.00" x2="491.80" y2="553.00" stroke="#231f20" stroke-width="1.2"/>
<line x1="430.00" y1="537.00" x2="430.00" y2="552.80" stroke="#4a5170" stroke-width="1"/>
<line x1="453.50" y1="539.00" x2="453.50" y2="552.80" stroke="#4a5170" stroke-width="1"/>
<line x1="490.10" y1="537.00" x2="490.10" y2="552.80" stroke="#4a5170" stroke-width="1"/>
<path d="M430.00,541.00 C430.00,532.47 490.10,532.47 490.10,541.00" fill="none" stroke="#4a5170" stroke-width="1"/>
<path d="M430.00,552.80 C430.00,541.60 453.50,541.60 453.50,552.80" fill="none" stroke="#4a5170" stroke-width="1"/>
<path d="M453.50,552.80 C453.50,541.60 490.10,541.60 490.10,552.80" fill="none" stroke="#4a5170" stroke-width="1"/>
<text x="460.40" y="534.40" font-size="5.9" text-anchor="middle" fill="#333">66</text>
<text x="441.50" y="542.50" font-size="5.9" text-anchor="middle" fill="#333">955</text>
<text x="469.80" y="542.50" font-size="5.9" text-anchor="middle" fill="#333">1236</text>
<line x1="430.50" y1="559.00" x2="490.00" y2="559.00" stroke="#1a1a1a" stroke-width="1.1"/>
<line x1="430.50" y1="557.70" x2="430.50" y2="560.30" stroke="#1a1a1a" stroke-width="0.9"/>
<line x1="490.00" y1="557.70" x2="490.00" y2="560.30" stroke="#1a1a1a" stroke-width="0.9"/>
<line x1="430.50" y1="565.40" x2="490.00" y2="565.40" stroke="#1a1a1a" stroke-width="1.1"/>
<line x1="430.50" y1="564.10" x2="430.50" y2="566.70" stroke="#1a1a1a" stroke-width="0.9"/>
<line x1="490.00" y1="564.10" x2="490.00" y2="566.70" stroke="#1a1a1a" stroke-width="0.9"/>
<line x1="453.50" y1="557.70" x2="453.50" y2="560.30" stroke="#1a1a1a" stroke-width="0.9"/>
<text x="461.20" y="575.30" font-size="7.5" text-anchor="middle" stroke="#231f20" stroke-width="0.15" font-style="italic">RFC1</text>
<rect x="0.5" y="0.5" width="519" height="581" fill="none" stroke="#000" stroke-width="1.1"/>
</svg></body></html>
